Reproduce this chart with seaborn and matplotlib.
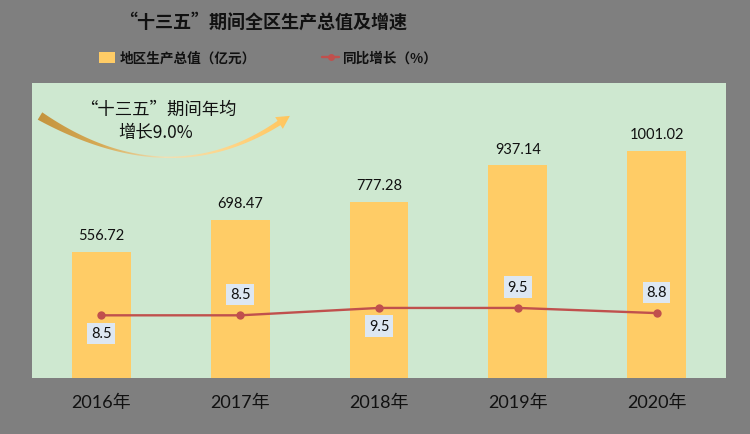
import numpy as np
import pandas as pd
import matplotlib
matplotlib.use('Agg')
import matplotlib.pyplot as plt
import seaborn as sns
from matplotlib.patches import Patch, Polygon
from matplotlib.lines import Line2D
from matplotlib.colors import LinearSegmentedColormap

# Data
years = ['2016年', '2017年', '2018年', '2019年', '2020年']
gdp = [556.72, 698.47, 777.28, 937.14, 1001.02]
growth = [8.5, 8.5, 9.5, 9.5, 8.8]
label_side = ['below', 'above', 'below', 'above', 'above']

title = '“十三五”期间全区生产总值及增速'
bar_name = '地区生产总值（亿元）'
line_name = '同比增长（%）'
note_lines = ['“十三五”期间年均', '增长9.0%']

BAR_COLOR = '#ffcc66'
LINE_COLOR = '#c0504d'
BG_GRAY = '#7f7f7f'
PLOT_GREEN = '#cee8d0'
BOX_COLOR = '#dde7f2'

sns.set_theme(style='white')
plt.rcParams['font.family'] = ['Noto Sans CJK SC', 'DejaVu Sans']
num_font = ['Lato', 'Noto Sans CJK SC']

df = pd.DataFrame({'year': years, 'gdp': gdp, 'growth': growth})

W, H = 750, 435
fig = plt.figure(figsize=(W / 100, H / 100), dpi=100, facecolor=BG_GRAY)

# main axes (plot area in pixels: x 32..726, y 84..379)
ax = fig.add_axes([32 / W, 56 / H, 694 / W, 295 / H])
ax.set_facecolor(PLOT_GREEN)
sns.barplot(data=df, x='year', y='gdp', color=BAR_COLOR, saturation=1,
            width=0.425, edgecolor='none', linewidth=0, ax=ax)
ax.set_ylim(0, 1300)
ax.set_xlim(-0.5, 4.5)
ax.set_xlabel('')
ax.set_ylabel('')
ax.set_yticks([])
ax.tick_params(axis='x', length=0, pad=11)
for lbl in ax.get_xticklabels():
    lbl.set_fontfamily(num_font)
    lbl.set_fontsize(13)
    lbl.set_color('#111111')
for s in ax.spines.values():
    s.set_visible(False)
ax.bar_label(ax.containers[0], labels=[f'{v:.2f}' for v in gdp], padding=7,
             fontsize=10.5, family=num_font, color='#111111')

# growth line on secondary axis
ax2 = ax.twinx()
x_pos = np.arange(len(years))
sns.lineplot(x=x_pos, y=growth, ax=ax2, color=LINE_COLOR, linewidth=1.7,
             marker='o', markersize=6, markeredgewidth=0)
ax2.set_ylim(0, 40)
ax2.set_yticks([])
ax2.set_ylabel('')
for s in ax2.spines.values():
    s.set_visible(False)
offsets = {'above': 15, 'below': -13}
for xi, v, side in zip(x_pos, growth, label_side):
    ax2.annotate(f'{v:.1f}', (xi, v), xytext=(0, offsets[side]),
                 textcoords='offset points', ha='center', va='center',
                 fontsize=10.5, family=num_font, color='#111111',
                 bbox=dict(boxstyle='square,pad=0.25', fc=BOX_COLOR, ec='none'))

# title and legend
fig.text(263 / W, 1 - 22 / H, title, ha='center', va='center',
         fontsize=13, fontweight='bold', color='#111111')
handles = [Patch(facecolor=BAR_COLOR, edgecolor='none'),
           Line2D([], [], color=LINE_COLOR, lw=1.7, marker='o', markersize=5,
                  markeredgewidth=0)]
leg = fig.legend(handles, [bar_name, line_name], loc='center left',
                 bbox_to_anchor=(99 / W, 1 - 59 / H), ncol=2, frameon=False,
                 borderaxespad=0, borderpad=0,
                 handlelength=1.2, handleheight=0.85, handletextpad=0.3,
                 columnspacing=4.9, prop={'size': 9.8, 'weight': 'bold'})
for t in leg.get_texts():
    t.set_color('#111111')

# curved gradient arrow note (overlay in pixel coords)
ov = fig.add_axes([0, 0, 1, 1], zorder=5)
ov.patch.set_alpha(0)
ov.axis('off')

p0 = np.array([40.0, 117.0])
pc = np.array([169.0, 196.0])
p2 = np.array([279.0, 124.0])
t = np.linspace(0, 1, 200)[:, None]
pts = (1 - t) ** 2 * p0 + 2 * (1 - t) * t * pc + t ** 2 * p2
d = 2 * (1 - t) * (pc - p0) + 2 * t * (p2 - pc)
d = d / np.linalg.norm(d, axis=1, keepdims=True)
n = np.column_stack([-d[:, 1], d[:, 0]])
tt = t[:, 0]
w = np.where(tt < 0.45, 0.7 + 3.6 * (1 - tt / 0.45) ** 2,
             0.7 + 1.9 * ((tt - 0.45) / 0.55) ** 2)
upper = pts + n * w[:, None]
lower = pts - n * w[:, None]
de, ne = d[-1], n[-1]
head = [p2 + ne * 7, p2 + de * 13, p2 - ne * 7]
poly_pts = np.vstack([upper, head, lower[::-1]])
poly = Polygon(poly_pts, closed=True, fc='none', ec='none')
ov.add_patch(poly)
cmap = LinearSegmentedColormap.from_list(
    'arc', ['#c4933d', '#d6aa55', '#f1e1b6', '#ffd588', '#ffc55a'])
grad = np.linspace(0, 1, 256)[None, :]
img = ov.imshow(grad, extent=[36, 294, 165, 105], cmap=cmap, aspect='auto',
                interpolation='bilinear')
img.set_clip_path(poly)
ov.text(158, 110, note_lines[0], ha='center', va='center', fontsize=12.5,
        color='#111111')
ov.text(156, 133, note_lines[1], ha='center', va='center', fontsize=12.5,
        color='#111111')
ov.set_xlim(0, W)
ov.set_ylim(H, 0)

fig.savefig('out.png', dpi=100, facecolor=BG_GRAY)
